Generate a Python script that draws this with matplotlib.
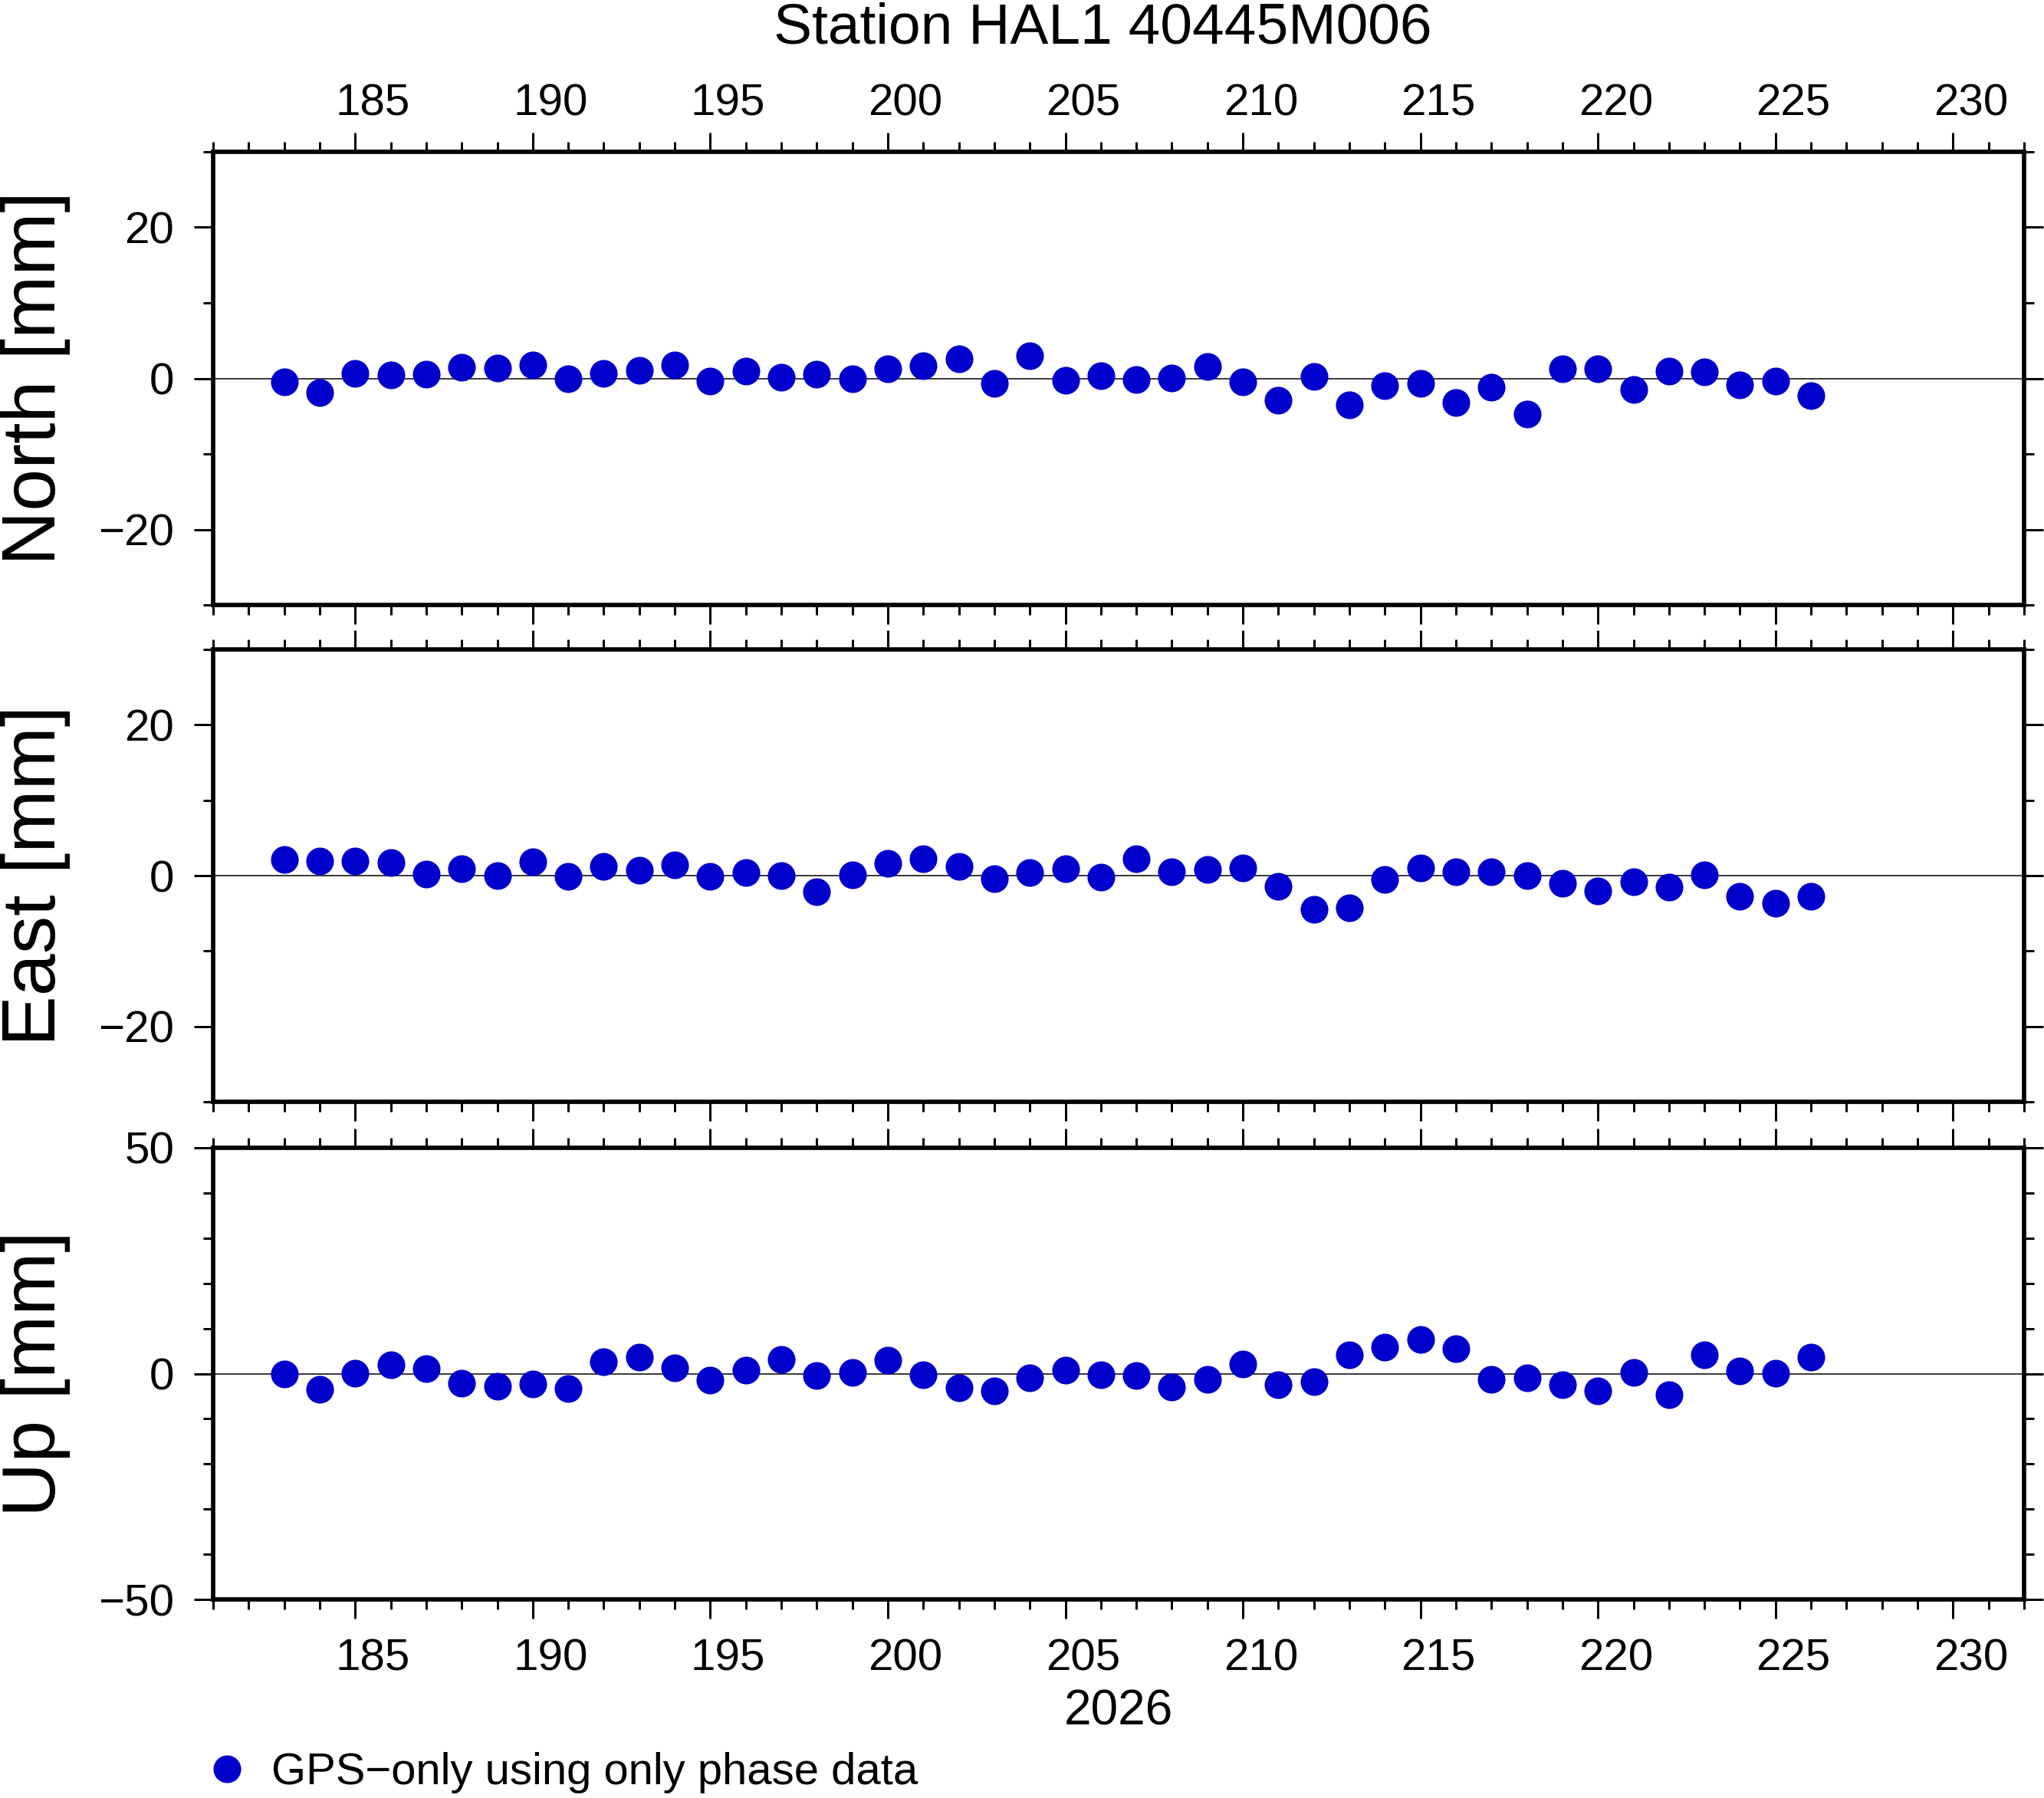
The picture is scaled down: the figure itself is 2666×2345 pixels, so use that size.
import matplotlib
matplotlib.use("Agg")
import matplotlib.pyplot as plt
from matplotlib.ticker import MultipleLocator, FixedLocator, NullLocator
from matplotlib.lines import Line2D

plt.rcParams['font.family'] = ['Liberation Sans', 'DejaVu Sans']

# day of year 2026
doy = list(range(183, 227))

north = [-0.5, -1.9, 0.7, 0.5, 0.6, 1.5, 1.4, 1.8, -0.1, 0.7, 1.1, 1.8, -0.4, 1.0,
         0.2, 0.6, -0.1, 1.3, 1.7, 2.6, -0.7,
         3.0, -0.3, 0.4, -0.2, 0.1, 1.6, -0.5, -2.9, 0.3, -3.5, -1.0, -0.7, -3.2,
         -1.2, -4.7, 1.3, 1.3, -1.5, 1.0, 0.9, -0.9, -0.4, -2.3]
east = [2.1, 1.9, 1.9, 1.7, 0.2, 0.9, 0.0, 1.8, -0.1, 1.2, 0.7, 1.4, -0.1, 0.4,
        0.0, -2.1, 0.1, 1.6, 2.2, 1.2, -0.4,
        0.4, 0.9, -0.2, 2.2, 0.5, 0.8, 1.0, -1.4, -4.5, -4.3, -0.5, 1.0, 0.5,
        0.5, 0.0, -1.0, -2.0, -0.8, -1.5, 0.1, -2.7, -3.7, -2.7]
up = [-0.1, -3.5, 0.1, 1.9, 1.1, -2.1, -2.8, -2.3, -3.3, 2.6, 3.7, 1.3, -1.4, 0.8,
      3.1, -0.5, 0.2, 2.9, -0.2, -3.2, -3.9,
      -1.0, 0.8, -0.2, -0.5, -3.0, -1.3, 2.1, -2.5, -1.7, 4.2, 5.8, 7.6, 5.6,
      -1.3, -1.0, -2.4, -3.9, 0.2, -4.6, 4.2, 0.6, 0.1, 3.7]

day_ticks = [185, 190, 195, 200, 205, 210, 215, 220, 225, 230]
labels = ['North [mm]', 'East [mm]', 'Up [mm]']
ylims = [(-30, 30), (-30, 30), (-50, 50)]
ymajor = [20, 20, 50]
title = 'Station HAL1 40445M006'
year = '2026'
legend_label = 'GPS\u2212only using only phase data'

DOT = '#0000cc'
W, H = 2666, 2345
fig = plt.figure(figsize=(W / 200, H / 200), dpi=200)

# panel frames in pixels (top, bottom)
frames = [(198, 789), (847, 1437), (1497, 2086)]
x0, x1 = 278, 2640


def day_labels(ax, where, pad):
    # day numbers sit in the middle of each day interval
    sec = ax.secondary_xaxis(where, functions=(lambda x: x - 0.5, lambda x: x + 0.5))
    sec.xaxis.set_major_locator(FixedLocator(day_ticks))
    sec.xaxis.set_minor_locator(NullLocator())
    sec.spines[where].set_visible(False)
    sec.tick_params(which='both', length=0, labelsize=21, pad=pad)
    return sec


axes = []
for i, (series, lab) in enumerate(zip([north, east, up], labels)):
    top, bot = frames[i]
    ax = fig.add_axes([x0 / W, 1 - bot / H, (x1 - x0) / W, (bot - top) / H])
    ax.axhline(0, color='black', lw=0.55, zorder=1)
    ax.plot(doy, series, 'o', color=DOT, ms=13, mec='none', zorder=3, clip_on=False)
    ax.set_xlim(181, 232)
    ax.set_ylim(*ylims[i])
    ax.xaxis.set_major_locator(MultipleLocator(5))
    ax.xaxis.set_minor_locator(MultipleLocator(1))
    ax.yaxis.set_major_locator(MultipleLocator(ymajor[i]))
    ax.yaxis.set_minor_locator(MultipleLocator(10))
    for s in ax.spines.values():
        s.set_linewidth(2.05)
    ax.tick_params(which='both', direction='out', width=1.08,
                   top=True, bottom=True, left=True, right=True,
                   labelbottom=False, labeltop=False, labelleft=True, labelright=False)
    ax.tick_params(which='major', length=9)
    ax.tick_params(which='minor', length=4.7)
    ax.tick_params(axis='y', labelsize=21, pad=9.3)
    fig.text(72 / W, 1 - (top + bot) / 2 / H, lab, rotation=90, rotation_mode='anchor',
             ha='center', va='baseline', fontsize=35.5)
    axes.append(ax)

day_labels(axes[0], 'top', 12.7)
day_labels(axes[2], 'bottom', 18.3)

fig.text(1438 / W, 1 - 56.5 / H, title, ha='center', va='baseline', fontsize=27)
fig.text(1459 / W, 1 - 2249 / H, year, ha='center', va='baseline', fontsize=23)

handle = Line2D([], [], ls='none', marker='o', color=DOT, ms=13, mec='none')
fig.legend([handle], [legend_label], loc='center left',
           bbox_to_anchor=(266.5 / W, 1 - 2312 / H), frameon=False,
           fontsize=20.9, handlelength=1.0, handletextpad=0.5,
           borderpad=0, borderaxespad=0)

fig.savefig('out.png', dpi=200)
